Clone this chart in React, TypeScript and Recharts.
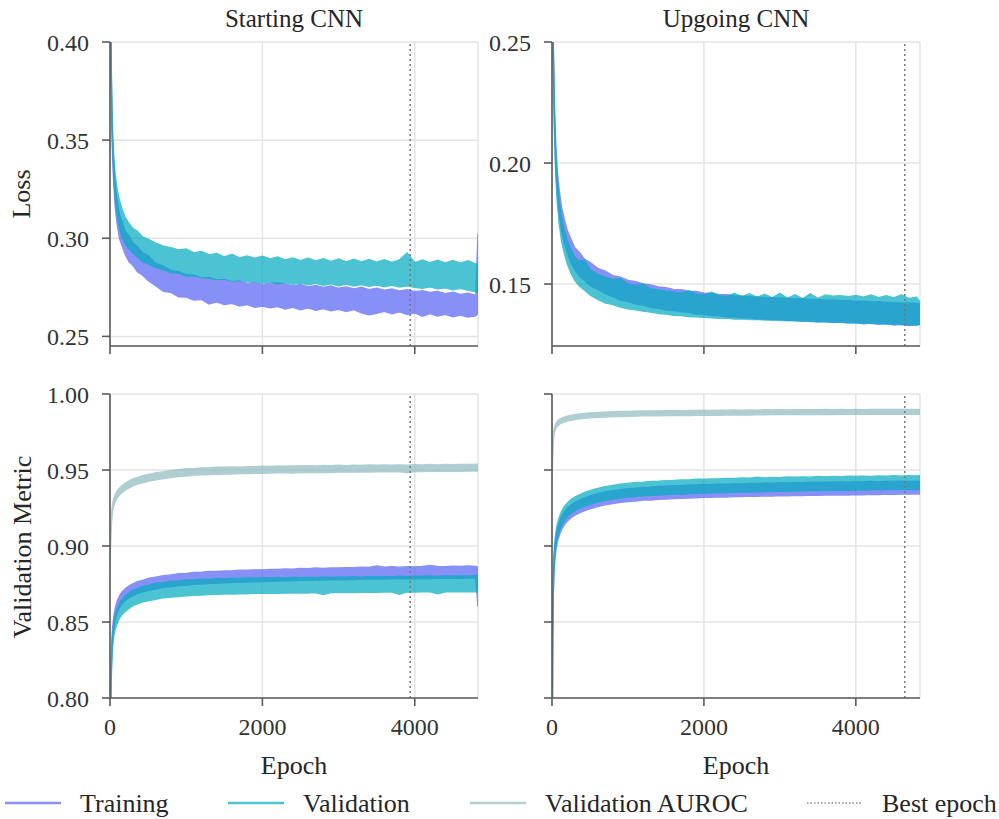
import React from 'react';
import { ComposedChart, Area, XAxis, YAxis, CartesianGrid, ReferenceLine } from 'recharts';

const FONT = 'Liberation Serif, DejaVu Serif, serif';
const TRAIN = '#5a66f4';
const VAL = '#06adc1';
const AUC = '#91bcc2';
const AX = '#5a5a5a';

// ---------- epochs ----------
const epochsStarting = [
  0, 8, 16, 25, 35, 50, 70, 95, 125, 160,
  200, 250, 300, 360, 430, 500, 600, 700, 800, 900,
  1000, 1100, 1200, 1300, 1400, 1500, 1600, 1700, 1800, 1900,
  2000, 2100, 2200, 2300, 2400, 2500, 2600, 2700, 2800, 2900,
  3000, 3100, 3200, 3300, 3400, 3500, 3600, 3700, 3800, 3900,
  4000, 4100, 4200, 4300, 4400, 4500, 4600, 4700, 4800, 4830,
];
const epochsUpgoing = [
  0, 8, 16, 25, 35, 50, 70, 95, 125, 160,
  200, 250, 300, 360, 430, 500, 600, 700, 800, 900,
  1000, 1100, 1200, 1300, 1400, 1500, 1600, 1700, 1800, 1900,
  2000, 2100, 2200, 2300, 2400, 2500, 2600, 2700, 2800, 2900,
  3000, 3100, 3200, 3300, 3400, 3500, 3600, 3700, 3800, 3900,
  4000, 4100, 4200, 4300, 4400, 4500, 4600, 4700, 4800, 4845,
];
const bestEpochStarting = 3940;
const bestEpochUpgoing = 4645;

// ---------- Starting CNN: loss ----------
const startTrainLossHi = [
  0.625, 0.424, 0.385, 0.364, 0.349, 0.337, 0.3265, 0.3185, 0.3118, 0.3080,
  0.3035, 0.3012, 0.2975, 0.2958, 0.2925, 0.2912, 0.2872, 0.2858, 0.2836, 0.2830,
  0.2815, 0.2812, 0.2798, 0.2800, 0.2788, 0.2790, 0.2779, 0.2783, 0.2770, 0.2776,
  0.2765, 0.2771, 0.2772, 0.2768, 0.2757, 0.2764, 0.2752, 0.2760, 0.2749, 0.2757,
  0.2745, 0.2752, 0.2742, 0.2750, 0.2738, 0.2746, 0.2735, 0.2742, 0.2731, 0.2738,
  0.2728, 0.2733, 0.2724, 0.2729, 0.2718, 0.2725, 0.2714, 0.2720, 0.2709, 0.3025,
];
const startTrainLossLo = [
  0.615, 0.416, 0.377, 0.356, 0.341, 0.327, 0.3155, 0.3070, 0.2998, 0.2960,
  0.2918, 0.2880, 0.2862, 0.2830, 0.2812, 0.2785, 0.2758, 0.2730, 0.2724, 0.2702,
  0.2700, 0.2685, 0.2688, 0.2665, 0.2676, 0.2662, 0.2668, 0.2655, 0.2662, 0.2648,
  0.2655, 0.2646, 0.2652, 0.2640, 0.2648, 0.2636, 0.2645, 0.2633, 0.2642, 0.2630,
  0.2638, 0.2627, 0.2636, 0.2620, 0.2610, 0.2618, 0.2628, 0.2615, 0.2625, 0.2612,
  0.2620, 0.2602, 0.2616, 0.2604, 0.2612, 0.2600, 0.2608, 0.2598, 0.2604, 0.2620,
];
const startValLossHi = [
  0.625, 0.430, 0.390, 0.368, 0.353, 0.341, 0.332, 0.3245, 0.3190, 0.3145,
  0.3105, 0.3075, 0.3050, 0.3035, 0.3005, 0.2995, 0.2975, 0.2960, 0.2952, 0.2940,
  0.2945, 0.2925, 0.2932, 0.2915, 0.2922, 0.2905, 0.2918, 0.2900, 0.2910, 0.2898,
  0.2908, 0.2895, 0.2905, 0.2890, 0.2900, 0.2886, 0.2898, 0.2884, 0.2896, 0.2882,
  0.2894, 0.2880, 0.2893, 0.2879, 0.2892, 0.2878, 0.2891, 0.2877, 0.2890, 0.2925,
  0.2876, 0.2889, 0.2875, 0.2888, 0.2874, 0.2887, 0.2873, 0.2885, 0.2870, 0.2860,
];
const startValLossLo = [
  0.615, 0.420, 0.381, 0.360, 0.345, 0.331, 0.320, 0.3115, 0.3050, 0.3005,
  0.2975, 0.2945, 0.2925, 0.2905, 0.2880, 0.2870, 0.2850, 0.2840, 0.2825, 0.2822,
  0.2808, 0.2810, 0.2800, 0.2796, 0.2790, 0.2792, 0.2782, 0.2786, 0.2778, 0.2782,
  0.2772, 0.2778, 0.2768, 0.2776, 0.2765, 0.2772, 0.2763, 0.2770, 0.2760, 0.2768,
  0.2758, 0.2766, 0.2757, 0.2764, 0.2755, 0.2762, 0.2753, 0.2760, 0.2752, 0.2758,
  0.2750, 0.2745, 0.2752, 0.2742, 0.2748, 0.2738, 0.2745, 0.2735, 0.2728, 0.2726,
];

// ---------- Upgoing CNN: loss ----------
const upTrainLossHi = [
  0.335, 0.279, 0.254, 0.236, 0.221, 0.2075, 0.1965, 0.1888, 0.1818, 0.1770,
  0.1722, 0.1685, 0.1650, 0.1630, 0.1602, 0.1590, 0.1565, 0.1553, 0.1535, 0.1528,
  0.1515, 0.1510, 0.1500, 0.1496, 0.1488, 0.1485, 0.1478, 0.1477, 0.1470, 0.1469,
  0.1462, 0.1461, 0.1456, 0.1456, 0.1451, 0.1451, 0.1447, 0.1447, 0.1443, 0.1444,
  0.1441, 0.1441, 0.1438, 0.1439, 0.1435, 0.1436, 0.1433, 0.1434, 0.1431, 0.1432,
  0.1428, 0.1429, 0.1426, 0.1427, 0.1424, 0.1424, 0.1421, 0.1422, 0.1420, 0.1418,
];
const upTrainLossLo = [
  0.325, 0.271, 0.246, 0.228, 0.213, 0.1985, 0.1875, 0.1792, 0.1722, 0.1672,
  0.1630, 0.1588, 0.1560, 0.1532, 0.1515, 0.1493, 0.1478, 0.1460, 0.1448, 0.1434,
  0.1428, 0.1418, 0.1412, 0.1404, 0.1400, 0.1392, 0.1390, 0.1385, 0.1383, 0.1376,
  0.1375, 0.1370, 0.1369, 0.1364, 0.1364, 0.1360, 0.1360, 0.1355, 0.1356, 0.1352,
  0.1354, 0.1349, 0.1351, 0.1346, 0.1348, 0.1343, 0.1346, 0.1341, 0.1344, 0.1339,
  0.1341, 0.1336, 0.1339, 0.1334, 0.1337, 0.1331, 0.1334, 0.1329, 0.1332, 0.1333,
];
const upValLossHi = [
  0.335, 0.274, 0.249, 0.232, 0.217, 0.2035, 0.1925, 0.1842, 0.1775, 0.1722,
  0.1680, 0.1642, 0.1612, 0.1594, 0.1598, 0.1560, 0.1540, 0.1528, 0.1518, 0.1522,
  0.1500, 0.1492, 0.1500, 0.1480, 0.1476, 0.1470, 0.1467, 0.1462, 0.1472, 0.1458,
  0.1455, 0.1466, 0.1452, 0.1448, 0.1462, 0.1447, 0.1460, 0.1445, 0.1458, 0.1443,
  0.1462, 0.1441, 0.1456, 0.1439, 0.1460, 0.1441, 0.1455, 0.1450, 0.1452, 0.1448,
  0.1453, 0.1446, 0.1455, 0.1444, 0.1452, 0.1443, 0.1456, 0.1440, 0.1445, 0.1425,
];
const upValLossLo = [
  0.325, 0.266, 0.241, 0.224, 0.209, 0.1945, 0.1835, 0.1748, 0.1678, 0.1630,
  0.1585, 0.1545, 0.1515, 0.1492, 0.1474, 0.1455, 0.1437, 0.1422, 0.1415, 0.1405,
  0.1398, 0.1394, 0.1388, 0.1384, 0.1378, 0.1376, 0.1371, 0.1370, 0.1366, 0.1365,
  0.1363, 0.1361, 0.1358, 0.1359, 0.1355, 0.1356, 0.1353, 0.1354, 0.1351, 0.1352,
  0.1349, 0.1350, 0.1347, 0.1348, 0.1345, 0.1346, 0.1343, 0.1344, 0.1341, 0.1342,
  0.1339, 0.1340, 0.1337, 0.1338, 0.1335, 0.1336, 0.1333, 0.1334, 0.1330, 0.1335,
];

// ---------- Starting CNN: validation metric ----------
const startAucHi = [
  0.889, 0.9075, 0.9172, 0.9232, 0.9277, 0.9313, 0.9340, 0.9363, 0.9382, 0.9398,
  0.9413, 0.9428, 0.9442, 0.9452, 0.9463, 0.9470, 0.9482, 0.9488, 0.9497, 0.9502,
  0.9508, 0.9509, 0.9514, 0.9515, 0.9518, 0.9518, 0.9520, 0.9519, 0.9522, 0.9521,
  0.9525, 0.9523, 0.9526, 0.9525, 0.9527, 0.9526, 0.9529, 0.9527, 0.9530, 0.9528,
  0.9531, 0.9529, 0.9532, 0.9530, 0.9533, 0.9531, 0.9533, 0.9532, 0.9534, 0.9532,
  0.9535, 0.9533, 0.9536, 0.9534, 0.9537, 0.9535, 0.9537, 0.9536, 0.9538, 0.9536,
];
const startAucLo = [
  0.883, 0.9025, 0.9128, 0.9188, 0.9233, 0.9268, 0.9295, 0.9318, 0.9335, 0.9352,
  0.9368, 0.9382, 0.9395, 0.9408, 0.9416, 0.9425, 0.9435, 0.9444, 0.9450, 0.9457,
  0.9461, 0.9466, 0.9468, 0.9470, 0.9472, 0.9474, 0.9473, 0.9476, 0.9476, 0.9478,
  0.9479, 0.9480, 0.9481, 0.9482, 0.9480, 0.9483, 0.9484, 0.9483, 0.9485, 0.9484,
  0.9486, 0.9486, 0.9486, 0.9487, 0.9487, 0.9488, 0.9488, 0.9489, 0.9488, 0.9484,
  0.9490, 0.9490, 0.9491, 0.9491, 0.9492, 0.9491, 0.9492, 0.9493, 0.9493, 0.9492,
];
const startTrainMetricHi = [
  0.782, 0.803, 0.825, 0.838, 0.8465, 0.8535, 0.8592, 0.8638, 0.8672, 0.8700,
  0.8718, 0.8738, 0.8750, 0.8765, 0.8774, 0.8786, 0.8795, 0.8805, 0.8810, 0.8818,
  0.8820, 0.8826, 0.8827, 0.8832, 0.8832, 0.8836, 0.8836, 0.8840, 0.8840, 0.8843,
  0.8843, 0.8846, 0.8846, 0.8849, 0.8848, 0.8852, 0.8851, 0.8856, 0.8853, 0.8856,
  0.8855, 0.8858, 0.8857, 0.8860, 0.8859, 0.8868, 0.8860, 0.8863, 0.8861, 0.8864,
  0.8862, 0.8865, 0.8872, 0.8866, 0.8864, 0.8867, 0.8865, 0.8868, 0.8866, 0.8860,
];
const startTrainMetricLo = [
  0.778, 0.797, 0.819, 0.832, 0.8395, 0.8465, 0.8518, 0.8562, 0.8596, 0.8622,
  0.8641, 0.8660, 0.8672, 0.8688, 0.8698, 0.8708, 0.8717, 0.8728, 0.8732, 0.8740,
  0.8742, 0.8748, 0.8750, 0.8754, 0.8755, 0.8758, 0.8759, 0.8762, 0.8763, 0.8765,
  0.8766, 0.8768, 0.8769, 0.8771, 0.8771, 0.8774, 0.8774, 0.8776, 0.8776, 0.8778,
  0.8778, 0.8780, 0.8780, 0.8782, 0.8782, 0.8783, 0.8783, 0.8785, 0.8784, 0.8786,
  0.8785, 0.8787, 0.8786, 0.8788, 0.8787, 0.8789, 0.8788, 0.8790, 0.8789, 0.8600,
];
const startValMetricHi = [
  0.782, 0.798, 0.818, 0.8315, 0.842, 0.849, 0.8545, 0.8588, 0.8625, 0.8648,
  0.8672, 0.8690, 0.8712, 0.8720, 0.8735, 0.8740, 0.8754, 0.8758, 0.8768, 0.8770,
  0.8776, 0.8776, 0.8782, 0.8780, 0.8786, 0.8784, 0.8788, 0.8786, 0.8790, 0.8788,
  0.8792, 0.8789, 0.8793, 0.8790, 0.8794, 0.8791, 0.8795, 0.8792, 0.8796, 0.8793,
  0.8797, 0.8794, 0.8798, 0.8795, 0.8799, 0.8796, 0.8800, 0.8797, 0.8801, 0.8798,
  0.8802, 0.8799, 0.8803, 0.8800, 0.8804, 0.8801, 0.8805, 0.8801, 0.8806, 0.8800,
];
const startValMetricLo = [
  0.778, 0.792, 0.812, 0.8245, 0.834, 0.841, 0.8455, 0.8492, 0.8525, 0.8550,
  0.8570, 0.8590, 0.8608, 0.8620, 0.8632, 0.8640, 0.8650, 0.8660, 0.8664, 0.8668,
  0.8672, 0.8676, 0.8678, 0.8681, 0.8682, 0.8684, 0.8684, 0.8686, 0.8686, 0.8688,
  0.8688, 0.8690, 0.8689, 0.8691, 0.8690, 0.8692, 0.8691, 0.8693, 0.8680, 0.8694,
  0.8693, 0.8695, 0.8694, 0.8696, 0.8695, 0.8696, 0.8697, 0.8697, 0.8682, 0.8698,
  0.8697, 0.8698, 0.8699, 0.8685, 0.8699, 0.8700, 0.8699, 0.8700, 0.8699, 0.8700,
];

// ---------- Upgoing CNN: validation metric ----------
const upAucHi = [
  0.947, 0.964, 0.972, 0.9762, 0.9786, 0.9806, 0.9821, 0.9832, 0.9841, 0.9848,
  0.9854, 0.9859, 0.9864, 0.9868, 0.9872, 0.9875, 0.9878, 0.9881, 0.9883, 0.9885,
  0.9886, 0.9887, 0.9888, 0.9889, 0.9889, 0.9890, 0.9891, 0.9890, 0.9892, 0.9891,
  0.9893, 0.9892, 0.9894, 0.9893, 0.9895, 0.9894, 0.9895, 0.9894, 0.9896, 0.9895,
  0.9896, 0.9895, 0.9897, 0.9896, 0.9897, 0.9896, 0.9898, 0.9897, 0.9898, 0.9897,
  0.9898, 0.9897, 0.9899, 0.9898, 0.9899, 0.9898, 0.9899, 0.9898, 0.9899, 0.9899,
];
const upAucLo = [
  0.943, 0.960, 0.968, 0.9728, 0.9754, 0.9774, 0.9789, 0.9800, 0.9809, 0.9816,
  0.9822, 0.9827, 0.9832, 0.9836, 0.9840, 0.9843, 0.9846, 0.9849, 0.9851, 0.9852,
  0.9854, 0.9855, 0.9856, 0.9857, 0.9857, 0.9858, 0.9858, 0.9859, 0.9859, 0.9860,
  0.9860, 0.9861, 0.9860, 0.9862, 0.9861, 0.9863, 0.9862, 0.9863, 0.9863, 0.9864,
  0.9864, 0.9864, 0.9865, 0.9864, 0.9865, 0.9865, 0.9866, 0.9865, 0.9866, 0.9866,
  0.9866, 0.9867, 0.9866, 0.9867, 0.9867, 0.9867, 0.9868, 0.9867, 0.9868, 0.9867,
];
const upTrainMetricHi = [
  0.705, 0.844, 0.874, 0.889, 0.898, 0.905, 0.911, 0.9152, 0.9192, 0.9222,
  0.9247, 0.9270, 0.9287, 0.9302, 0.9317, 0.9329, 0.9344, 0.9355, 0.9364, 0.9371,
  0.9377, 0.9380, 0.9386, 0.9387, 0.9392, 0.9393, 0.9397, 0.9397, 0.9401, 0.9401,
  0.9405, 0.9404, 0.9407, 0.9406, 0.9409, 0.9409, 0.9412, 0.9411, 0.9414, 0.9413,
  0.9416, 0.9415, 0.9417, 0.9416, 0.9419, 0.9418, 0.9420, 0.9419, 0.9421, 0.9420,
  0.9423, 0.9421, 0.9424, 0.9422, 0.9425, 0.9424, 0.9426, 0.9425, 0.9427, 0.9426,
];
const upTrainMetricLo = [
  0.695, 0.836, 0.866, 0.881, 0.890, 0.897, 0.903, 0.9068, 0.9108, 0.9138,
  0.9163, 0.9186, 0.9203, 0.9218, 0.9233, 0.9245, 0.9260, 0.9271, 0.9280, 0.9287,
  0.9293, 0.9296, 0.9302, 0.9303, 0.9308, 0.9309, 0.9312, 0.9313, 0.9316, 0.9317,
  0.9320, 0.9320, 0.9323, 0.9322, 0.9325, 0.9325, 0.9328, 0.9327, 0.9330, 0.9329,
  0.9332, 0.9331, 0.9333, 0.9332, 0.9335, 0.9334, 0.9336, 0.9335, 0.9337, 0.9336,
  0.9339, 0.9337, 0.9340, 0.9338, 0.9341, 0.9340, 0.9342, 0.9341, 0.9343, 0.9342,
];
const upValMetricHi = [
  0.708, 0.8475, 0.8775, 0.8925, 0.9015, 0.9085, 0.9145, 0.9187, 0.9227, 0.9257,
  0.9282, 0.9305, 0.9322, 0.9337, 0.9352, 0.9364, 0.9379, 0.9390, 0.9399, 0.9406,
  0.9412, 0.9418, 0.9420, 0.9424, 0.9426, 0.9430, 0.9431, 0.9434, 0.9435, 0.9440,
  0.9439, 0.9441, 0.9442, 0.9445, 0.9444, 0.9447, 0.9446, 0.9452, 0.9448, 0.9451,
  0.9450, 0.9454, 0.9452, 0.9455, 0.9453, 0.9458, 0.9455, 0.9457, 0.9456, 0.9459,
  0.9457, 0.9460, 0.9458, 0.9461, 0.9459, 0.9462, 0.9460, 0.9463, 0.9461, 0.9462,
];
const upValMetricLo = [
  0.698, 0.8385, 0.8685, 0.8835, 0.8925, 0.8995, 0.9055, 0.9097, 0.9137, 0.9167,
  0.9192, 0.9215, 0.9232, 0.9247, 0.9262, 0.9274, 0.9289, 0.9300, 0.9309, 0.9316,
  0.9322, 0.9326, 0.9330, 0.9333, 0.9336, 0.9339, 0.9341, 0.9340, 0.9345, 0.9346,
  0.9349, 0.9348, 0.9351, 0.9352, 0.9353, 0.9356, 0.9355, 0.9357, 0.9358, 0.9359,
  0.9361, 0.9360, 0.9362, 0.9363, 0.9364, 0.9365, 0.9364, 0.9366, 0.9367, 0.9366,
  0.9369, 0.9368, 0.9370, 0.9369, 0.9371, 0.9372, 0.9371, 0.9373, 0.9372, 0.9374,
];

// ---------- axes ----------
const xTicks = [0, 2000, 4000];
const lossStartTicks = [0.25, 0.3, 0.35, 0.4];
const lossUpTicks = [0.15, 0.2, 0.25];
const metricTicks = [0.8, 0.85, 0.9, 0.95, 1.0];

type Band = { key: string; lo: number[]; hi: number[]; color: string };

function buildRows(epochs: number[], bands: Band[]) {
  return epochs.map((e, i) => {
    const r: Record<string, any> = { epoch: e };
    bands.forEach((b) => {
      r[b.key] = [b.lo[i], b.hi[i]];
    });
    return r;
  });
}

const tickStyle = { fill: '#333', fontSize: 24, fontFamily: FONT };

function Panel(props: {
  x: number; y: number; epochs: number[]; bands: Band[]; xMax: number;
  yDomain: [number, number]; yTicks: number[]; yLabels: boolean; xLabels: boolean; best: number;
}) {
  const { x, y, epochs, bands, xMax, yDomain, yTicks, yLabels, xLabels, best } = props;
  const YW = 100, MT = 30, MR = 10, XH = 60, W = 368, H = 304;
  const data = buildRows(epochs, bands);
  const line = { stroke: AX, strokeWidth: 1.6 };
  return (
    <div style={{ position: 'absolute', left: x - YW, top: y - MT }}>
      <ComposedChart width={YW + W + MR} height={MT + H + XH} data={data}
        margin={{ top: MT, right: MR, bottom: 0, left: 0 }}>
        <CartesianGrid stroke="#e4e4e4" strokeWidth={1.5} />
        <XAxis dataKey="epoch" type="number" domain={[0, xMax]} ticks={xTicks} allowDataOverflow
          height={XH} tickSize={8} tickMargin={12} interval={0}
          axisLine={line} tickLine={line} tick={tickStyle}
          tickFormatter={(v: number) => (xLabels ? String(v) : '')} />
        <XAxis xAxisId="top" orientation="top" type="number" domain={[0, xMax]} allowDataOverflow
          height={0} tick={false} tickLine={false} axisLine={line} />
        <YAxis type="number" domain={yDomain} ticks={yTicks} allowDataOverflow width={YW}
          tickSize={8} tickMargin={13} interval={0}
          axisLine={line} tickLine={line} tick={tickStyle}
          tickFormatter={(v: number) => (yLabels ? v.toFixed(2) : '')} />
        <YAxis yAxisId="right" orientation="right" type="number" domain={yDomain} allowDataOverflow
          width={0} tick={false} tickLine={false} axisLine={line} />
        {bands.map((b) => (
          <Area key={b.key} type="linear" dataKey={b.key} stroke={b.color} strokeWidth={1.4}
            fill={b.color} fillOpacity={1} dot={false} activeDot={false}
            isAnimationActive={false} />
        ))}
        <ReferenceLine x={best} stroke="#777" strokeWidth={1.5} strokeDasharray="2 3" />
      </ComposedChart>
    </div>
  );
}

const legendItems = [
  { label: 'Training', color: '#8891f7', x: 5, dash: undefined as string | undefined },
  { label: 'Validation', color: '#4cc4d2', x: 228, dash: undefined },
  { label: 'Validation AUROC', color: '#b0cfd3', x: 470, dash: undefined },
  { label: 'Best epoch', color: '#8a8a8a', x: 807, dash: '1.5 2' },
];

const css = `
.recharts-area { opacity: 0.72; }
svg text, svg tspan { font-family: "Liberation Serif", "DejaVu Serif", serif !important; }
`;

export default function App() {
  const labelStyle = { fontFamily: FONT, fontSize: 26, fill: '#262626' } as React.CSSProperties;
  return (
    <div style={{ position: 'absolute', left: 0, top: 0, width: 999, height: 819, background: '#fff', overflow: 'hidden', fontFamily: FONT }}>
      <style>{css}</style>
      <Panel x={110} y={42} epochs={epochsStarting} xMax={4830} yDomain={[0.2451, 0.4]}
        yTicks={lossStartTicks} yLabels xLabels={false} best={bestEpochStarting}
        bands={[
          { key: 'train', lo: startTrainLossLo, hi: startTrainLossHi, color: TRAIN },
          { key: 'val', lo: startValLossLo, hi: startValLossHi, color: VAL },
        ]} />
      <Panel x={552} y={42} epochs={epochsUpgoing} xMax={4845} yDomain={[0.1244, 0.25]}
        yTicks={lossUpTicks} yLabels xLabels={false} best={bestEpochUpgoing}
        bands={[
          { key: 'train', lo: upTrainLossLo, hi: upTrainLossHi, color: TRAIN },
          { key: 'val', lo: upValLossLo, hi: upValLossHi, color: VAL },
        ]} />
      <Panel x={110} y={394} epochs={epochsStarting} xMax={4830} yDomain={[0.8, 1.0]}
        yTicks={metricTicks} yLabels xLabels best={bestEpochStarting}
        bands={[
          { key: 'train', lo: startTrainMetricLo, hi: startTrainMetricHi, color: TRAIN },
          { key: 'val', lo: startValMetricLo, hi: startValMetricHi, color: VAL },
          { key: 'auc', lo: startAucLo, hi: startAucHi, color: AUC },
        ]} />
      <Panel x={552} y={394} epochs={epochsUpgoing} xMax={4845} yDomain={[0.8, 1.0]}
        yTicks={metricTicks} yLabels={false} xLabels best={bestEpochUpgoing}
        bands={[
          { key: 'train', lo: upTrainMetricLo, hi: upTrainMetricHi, color: TRAIN },
          { key: 'val', lo: upValMetricLo, hi: upValMetricHi, color: VAL },
          { key: 'auc', lo: upAucLo, hi: upAucHi, color: AUC },
        ]} />
      <svg width={999} height={819} style={{ position: 'absolute', left: 0, top: 0, pointerEvents: 'none' }}>
        <text x={294} y={26.5} textAnchor="middle" style={{ ...labelStyle, fontSize: 25 }}>Starting CNN</text>
        <text x={736} y={26.5} textAnchor="middle" style={{ ...labelStyle, fontSize: 25 }}>Upgoing CNN</text>
        <text transform="translate(30,194) rotate(-90)" textAnchor="middle" style={labelStyle}>Loss</text>
        <text transform="translate(31,547) rotate(-90)" textAnchor="middle" style={labelStyle}>Validation Metric</text>
        <text x={294} y={774} textAnchor="middle" style={labelStyle}>Epoch</text>
        <text x={736} y={774} textAnchor="middle" style={labelStyle}>Epoch</text>
        {legendItems.map((it) => (
          <g key={it.label}>
            <line x1={it.x} x2={it.x + 56} y1={803} y2={803} stroke={it.color}
              strokeWidth={it.dash ? 1.3 : 2.6} strokeDasharray={it.dash} />
            <text x={it.x + 75} y={812} style={labelStyle}>{it.label}</text>
          </g>
        ))}
      </svg>
    </div>
  );
}
